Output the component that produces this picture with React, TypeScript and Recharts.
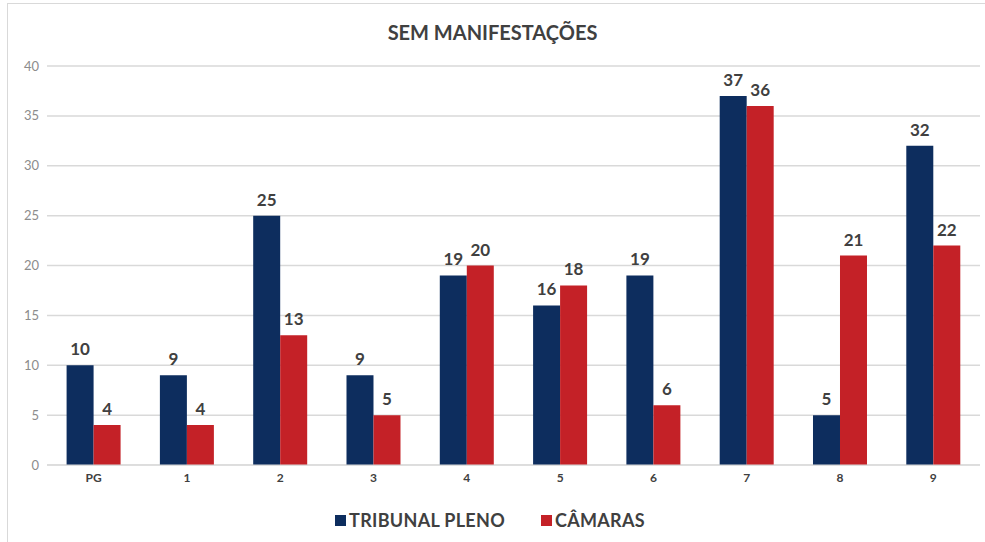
import { Bar, BarChart, CartesianGrid, LabelList, Legend, XAxis, YAxis } from "recharts";

// SEM MANIFESTAÇÕES — tribunal pleno x câmaras
const categorias = ["PG", "1", "2", "3", "4", "5", "6", "7", "8", "9"];
const tribunalPleno = [10, 9, 25, 9, 19, 16, 19, 37, 5, 32];
const camaras = [4, 4, 13, 5, 20, 18, 6, 36, 21, 22];
const yTicks = [0, 5, 10, 15, 20, 25, 30, 35, 40];

const series = [
  { key: "pleno", name: "TRIBUNAL PLENO", color: "#0d2d5e" },
  { key: "camaras", name: "CÂMARAS", color: "#c42127" },
];

const data = categorias.map((c, i) => ({ c, pleno: tribunalPleno[i], camaras: camaras[i] }));

const FONT = "Lato, 'Open Sans', sans-serif";
const labelStyle = { fontSize: 17, fontWeight: 700, fill: "#404040" };

function LegendBox() {
  return (
    <div style={{ display: "flex", justifyContent: "center", gap: 36, paddingTop: 14, fontSize: 18, fontWeight: 700, color: "#404040", letterSpacing: 0.3 }}>
      {series.map((s) => (
        <span key={s.key} style={{ display: "flex", alignItems: "center", gap: 3 }}>
          <span style={{ width: 11, height: 11, background: s.color, display: "inline-block" }} />
          {s.name}
        </span>
      ))}
    </div>
  );
}

export default function App() {
  return (
    <div style={{ position: "absolute", left: 0, top: 0, width: 985, height: 542, background: "#fff", fontFamily: FONT }}>
      <div style={{ position: "absolute", left: 7, top: 3, width: 980, height: 545, borderLeft: "1px solid #d9d9d9", borderTop: "1px solid #d9d9d9" }} />
      <div style={{ position: "absolute", top: 20, width: 985, textAlign: "center", fontSize: 20, fontWeight: 700, color: "#404040" }}>
        SEM MANIFESTAÇÕES
      </div>
      <BarChart width={985} height={542} data={data} margin={{ top: 66, right: 5, bottom: 10, left: 0 }}
        barGap={0} barCategoryGap="21%">
        <CartesianGrid vertical={false} stroke="#d9d9d9" strokeWidth={1.5} />
        <XAxis dataKey="c" height={30} tickLine={false} axisLine={{ stroke: "#d9d9d9" }}
          tick={{ fontSize: 12, fill: "#404040", fontWeight: 700 }} />
        <YAxis width={47} domain={[0, 40]} ticks={yTicks} axisLine={false} tickLine={false}
          tick={{ fontSize: 13, fill: "#8c8c8c" }} />
        <Legend verticalAlign="bottom" height={37} content={<LegendBox />} />
        <Bar dataKey="pleno" name="TRIBUNAL PLENO" fill="#0d2d5e" isAnimationActive={false}>
          <LabelList dataKey="pleno" position="top" offset={10} style={labelStyle} />
        </Bar>
        <Bar dataKey="camaras" name="CÂMARAS" fill="#c42127" isAnimationActive={false}>
          <LabelList dataKey="camaras" position="top" offset={10} style={labelStyle} />
        </Bar>
      </BarChart>
    </div>
  );
}
